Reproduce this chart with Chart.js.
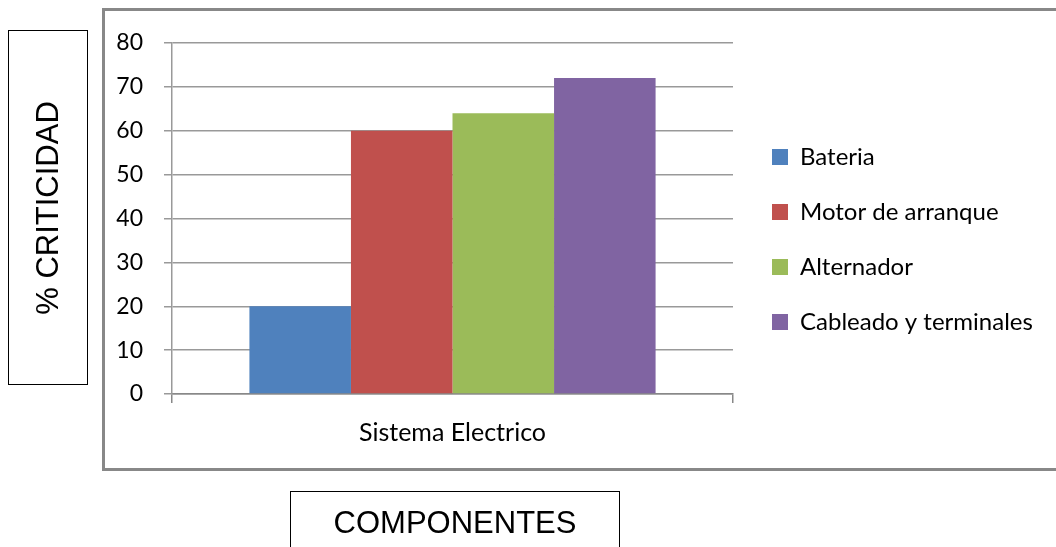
<!DOCTYPE html>
<html>
<head>
<meta charset="utf-8">
<script src="https://cdn.jsdelivr.net/npm/chart.js@4"></script>
<style>
  html, body { margin: 0; padding: 0; background: #fff; }
  body { width: 1056px; height: 547px; overflow: hidden; position: relative; }
  .frame { position: absolute; left: 102px; top: 8px; width: 1000px; height: 457px; border: 3px solid #888; }
  .wrap { position: absolute; left: 0; top: 0; width: 1056px; height: 547px; }
  .ybox { position: absolute; left: 8px; top: 30px; width: 78px; height: 353px; border: 1.5px solid #000; }
  .ybox span { position: absolute; left: 50%; top: 50%; transform: translate(-50%, -50%) rotate(-90deg);
    white-space: nowrap; font: 31px "Liberation Sans", Arial, sans-serif; color: #000; }
  .xbox { position: absolute; left: 290px; top: 491px; width: 328px; height: 80px; border: 1.5px solid #000;
    font: 31px "Liberation Sans", Arial, sans-serif; color: #000; text-align: center; line-height: 62px; }
</style>
</head>
<body>
<div class="frame"></div>
<div class="wrap"><canvas id="barChart"></canvas></div>
<div class="ybox"><span>% CRITICIDAD</span></div>
<div class="xbox">COMPONENTES</div>
<script>
var categories = ["Sistema Electrico"];
var seriesNames = ["Bateria", "Motor de arranque", "Alternador", "Cableado y terminales"];
var seriesValues = [20, 60, 64, 72];
var seriesColors = ["#4F81BD", "#C0504D", "#9BBB59", "#8064A2"];
var yMax = 80;
var yStep = 10;

// legend sits to the right of the plot, outside the chart area
var legendPlacement = {
  id: "legendPlacement",
  afterLayout: function (chart) {
    var lg = chart.legend;
    lg.left = 741;
    lg.right = 1056;
    lg.top = 114;
    lg.bottom = 547;
    lg.width = lg.right - lg.left;
    lg.height = lg.bottom - lg.top;
  },
};

var ctx = document.getElementById("barChart").getContext("2d");
var myChart = new Chart(ctx, {
  type: "bar",
  data: {
    labels: categories,
    datasets: seriesNames.map(function (name, i) {
      return {
        label: name,
        data: [seriesValues[i]],
        backgroundColor: seriesColors[i],
        borderWidth: 0,
        categoryPercentage: 0.724,
        barPercentage: 1,
      };
    }),
  },
  options: {
    responsive: true,
    maintainAspectRatio: false,
    animation: false,
    layout: { padding: { left: 100, top: 43, right: 323, bottom: 0 } },
    plugins: {
      tooltip: { enabled: false },
      legend: {
        position: "chartArea",
        align: "start",
        labels: {
          font: { family: "Lato", size: 24 },
          color: "#000",
          boxWidth: 16,
          boxHeight: 16,
          padding: 31,
        },
      },
    },
    scales: {
      x: {
        afterFit: function (scale) { scale.height = 153; },
        grid: { drawOnChartArea: false, tickLength: 9, color: "#888", lineWidth: 1.5, offset: true },
        border: { color: "#888", width: 1.5 },
        ticks: { font: { family: "Lato", size: 25 }, color: "#000", padding: 15 },
      },
      y: {
        min: 0,
        max: yMax,
        afterFit: function (scale) { scale.width = 72; },
        grid: { tickLength: 8, color: "#999", lineWidth: 1.5 },
        border: { color: "#999", width: 1.5 },
        ticks: { stepSize: yStep, font: { family: "Lato", size: 23 }, color: "#000", padding: 21 },
      },
    },
  },
  plugins: [legendPlacement],
});
</script>
</body>
</html>
